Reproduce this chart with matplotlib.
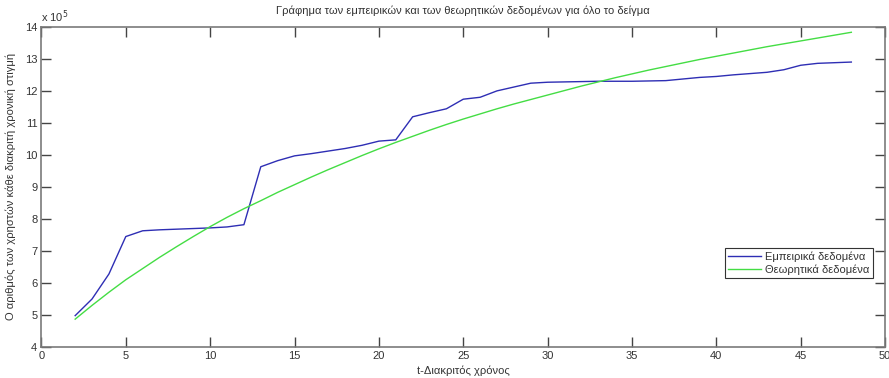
import matplotlib
matplotlib.use("Agg")
import matplotlib.pyplot as plt

# ---- data (users, in units of 10^5) ---------------------------------------
t = list(range(2, 49))

empirical = [
    4.98, 5.50, 6.28, 7.45, 7.63, 7.66, 7.68, 7.70, 7.72, 7.75,
    7.82, 9.63, 9.82, 9.97, 10.04, 10.12, 10.20, 10.30, 10.43, 10.47,
    11.19, 11.32, 11.44, 11.74, 11.80, 12.00, 12.12, 12.24, 12.27, 12.28,
    12.29, 12.30, 12.30, 12.30, 12.31, 12.32, 12.37, 12.42, 12.45, 12.50,
    12.54, 12.58, 12.66, 12.80, 12.86, 12.88, 12.90,
]

theoretical = [
    4.87, 5.30, 5.71, 6.10, 6.45, 6.80, 7.13, 7.45, 7.76, 8.05,
    8.32, 8.57, 8.83, 9.07, 9.31, 9.54, 9.76, 9.98, 10.19, 10.39,
    10.58, 10.77, 10.95, 11.12, 11.28, 11.44, 11.59, 11.73, 11.87, 12.01,
    12.15, 12.28, 12.41, 12.53, 12.65, 12.76, 12.87, 12.98, 13.08, 13.18,
    13.28, 13.38, 13.47, 13.56, 13.65, 13.74, 13.83,
]

labels = ["Εμπειρικά δεδομένα", "Θεωρητικά δεδομένα"]
x_ticks = list(range(0, 51, 5))
y_ticks = list(range(4, 15))

TITLE = "Γράφημα των εμπειρικών και των θεωρητικών δεδομένων για όλο το δείγμα"
XLABEL = "t-Διακριτός χρόνος"
YLABEL = "Ο αριθμός των χρηστών κάθε διακριτή χρονική στιγμή"

BLUE = "#2e2eb4"
GREEN = "#44dd44"
AXIS = "#7a7a7a"
TEXT = "#333333"

plt.rcParams.update({
    "font.family": ["Liberation Sans", "DejaVu Sans"],
    "font.size": 8,
})

fig = plt.figure(figsize=(8.89, 3.78), dpi=100, facecolor="white")
ax = fig.add_axes([0.0466, 0.082, 0.949, 0.847])

ax.plot(t, empirical, color=BLUE, linewidth=1.0, label=labels[0])
ax.plot(t, theoretical, color=GREEN, linewidth=1.0, label=labels[1])

ax.set_xlim(0, 50)
ax.set_ylim(4, 14)
ax.set_xticks(x_ticks)
ax.set_yticks(y_ticks)
ax.tick_params(direction="in", length=7, width=1, color="#444444",
               labelcolor=TEXT, labelsize=8, top=True, right=True, pad=3)
for spine in ax.spines.values():
    spine.set_color(AXIS)
    spine.set_linewidth(1.2)

ax.text(0.0, 1.005, r"x 10$^5$", transform=ax.transAxes, ha="left",
        va="bottom", fontsize=8, color=TEXT)

ax.set_title(TITLE, fontsize=8, color=TEXT, pad=9)
ax.set_xlabel(XLABEL, fontsize=8, color=TEXT, labelpad=3)
ax.set_ylabel(YLABEL, fontsize=8, color=TEXT, labelpad=6)

leg = ax.legend(loc="upper left", bbox_to_anchor=(0.81, 0.31),
                borderaxespad=0, fontsize=8, handlelength=3,
                handletextpad=0.3, fancybox=False, framealpha=1,
                borderpad=0.3, labelspacing=0.25)
leg.get_frame().set_edgecolor("#333333")
leg.get_frame().set_linewidth(0.8)
for txt in leg.get_texts():
    txt.set_color(TEXT)

fig.savefig("out.png", dpi=100, facecolor="white")
